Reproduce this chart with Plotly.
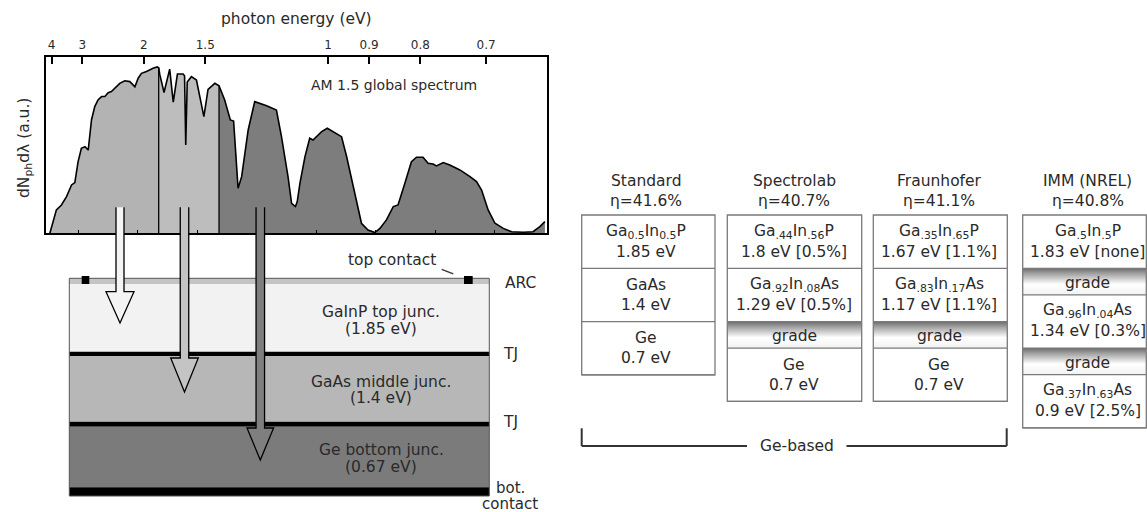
import plotly.graph_objects as go

# ---------------- data ----------------
wavelength_nm = [304, 326, 343, 360, 377, 388, 399, 410, 422, 433, 444, 455, 466, 478, 489,
                 500, 511, 522, 539, 556, 573, 590, 601, 612, 629, 651, 665, 670, 674, 688,
                 707, 719, 733, 752, 757, 761, 766, 780, 797, 822, 836, 859, 873, 892, 911,
                 922, 932, 937, 949, 971, 993, 1033, 1066, 1083, 1105, 1117, 1124, 1130, 1136,
                 1145, 1162, 1178, 1189, 1201, 1218, 1237, 1257, 1285, 1302, 1319, 1335, 1352,
                 1374, 1397, 1414, 1436, 1459, 1475, 1498, 1520, 1537, 1559, 1576, 1593, 1604,
                 1627, 1649, 1683, 1717, 1739, 1756, 1778, 1801, 1829, 1857, 1896, 1929, 1952, 1969]
photon_flux_au = [0.0, 0.133, 0.161, 0.208, 0.275, 0.288, 0.407, 0.483, 0.492, 0.473, 0.644, 0.720,
                  0.758, 0.777, 0.777, 0.799, 0.805, 0.824, 0.852, 0.867, 0.862, 0.833, 0.881, 0.909,
                  0.919, 0.938, 0.945, 0.940, 0.900, 0.800, 0.933, 0.745, 0.905, 0.905, 0.895, 0.502,
                  0.860, 0.890, 0.871, 0.663, 0.818, 0.852, 0.838, 0.757, 0.644, 0.638, 0.417, 0.256,
                  0.322, 0.587, 0.748, 0.725, 0.700, 0.549, 0.322, 0.170, 0.160, 0.152, 0.180, 0.284,
                  0.436, 0.540, 0.530, 0.549, 0.578, 0.597, 0.578, 0.549, 0.436, 0.303, 0.170, 0.057,
                  0.019, 0.004, 0.028, 0.076, 0.152, 0.161, 0.284, 0.407, 0.432, 0.432, 0.398, 0.394,
                  0.383, 0.402, 0.388, 0.360, 0.322, 0.294, 0.246, 0.133, 0.057, 0.028, 0.009, 0.006,
                  0.009, 0.038, 0.066]
gainp_edge_nm = 670
gaas_edge_nm = 873

energy_ticks_ev = [4, 3, 2, 1.5, 1, 0.9, 0.8, 0.7]
energy_tick_labels = ["4", "3", "2", "1.5", "1", "0.9", "0.8", "0.7"]
wavelength_minor_ticks_nm = [400, 600, 800, 1000, 1200, 1400, 1600, 1800]

cell_junctions = ["GaInP top junc.", "GaAs middle junc.", "Ge bottom junc."]
cell_gaps = ["(1.85 eV)", "(1.4 eV)", "(0.67 eV)"]

designs = ["Standard", "Spectrolab", "Fraunhofer", "IMM (NREL)"]
efficiencies = ["η=41.6%", "η=40.7%", "η=41.1%", "η=40.8%"]
design_layers = [
    [("Ga<sub>0.5</sub>In<sub>0.5</sub>P", "1.85 eV"), ("GaAs", "1.4 eV"), ("Ge", "0.7 eV")],
    [("Ga<sub>.44</sub>In<sub>.56</sub>P", "1.8 eV [0.5%]"),
     ("Ga<sub>.92</sub>In<sub>.08</sub>As", "1.29 eV [0.5%]"), ("grade", None), ("Ge", "0.7 eV")],
    [("Ga<sub>.35</sub>In<sub>.65</sub>P", "1.67 eV [1.1%]"),
     ("Ga<sub>.83</sub>In<sub>.17</sub>As", "1.17 eV [1.1%]"), ("grade", None), ("Ge", "0.7 eV")],
    [("Ga<sub>.5</sub>In<sub>.5</sub>P", "1.83 eV [none]"), ("grade", None),
     ("Ga<sub>.96</sub>In<sub>.04</sub>As", "1.34 eV [0.3%]"), ("grade", None),
     ("Ga<sub>.37</sub>In<sub>.63</sub>As", "0.9 eV [2.5%]")],
]

# ---------------- layout constants (pixels) ----------------
W, H = 1147, 512
FONT = "DejaVu Sans"
TXT = "#2a2a2a"
BOX_L, BOX_R, BOX_T, BOX_B = 45.7, 546.7, 57.3, 233.3
LAM_RANGE = [290, 1975]

fig = go.Figure()

# ---------------- spectrum ----------------
i1 = wavelength_nm.index(gainp_edge_nm)
i2 = wavelength_nm.index(gaas_edge_nm)
segments = [(0, i1 + 1, "#b3b3b3"), (i1, i2 + 1, "#bdbdbd"), (i2, len(wavelength_nm), "#7d7d7d")]
for a, b, col in segments:
    fig.add_trace(go.Scatter(x=wavelength_nm[a:b], y=photon_flux_au[a:b], mode="lines",
                             line=dict(width=0), fill="tozeroy", fillcolor=col,
                             hoverinfo="skip", showlegend=False))
for idx in (i1, i2):
    fig.add_trace(go.Scatter(x=[wavelength_nm[idx]] * 2, y=[0, photon_flux_au[idx]], mode="lines",
                             line=dict(color="black", width=1.3), hoverinfo="skip", showlegend=False))
fig.add_trace(go.Scatter(x=wavelength_nm, y=photon_flux_au, mode="lines",
                         line=dict(color="black", width=1.6), hoverinfo="skip", showlegend=False))
# anchor for the bottom tick axis
fig.add_trace(go.Scatter(x=wavelength_nm[:1], y=[0], xaxis="x2", yaxis="y", mode="markers",
                         marker=dict(opacity=0), hoverinfo="skip", showlegend=False))

# ---------------- helpers for the diagram (pixel axis x3/y3) ----------------
shapes = []
annotations = []


def rect(x0, y0, x1, y1, fill, line=None, lw=0):
    shapes.append(dict(type="rect", xref="x3", yref="y3", x0=x0, y0=y0, x1=x1, y1=y1,
                       fillcolor=fill, line=dict(color=line or "rgba(0,0,0,0)", width=lw),
                       layer="above"))


def seg(x0, y0, x1, y1, color="black", lw=1.0):
    shapes.append(dict(type="line", xref="x3", yref="y3", x0=x0, y0=y0, x1=x1, y1=y1,
                       line=dict(color=color, width=lw), layer="above"))


def text(x, y, s, size=15.5, xanchor="center", angle=0):
    annotations.append(dict(xref="x3", yref="y3", x=x, y=y, text=s, showarrow=False,
                            xanchor=xanchor, yanchor="middle", textangle=angle,
                            font=dict(family=FONT, size=size, color=TXT)))


# axis texts for the spectrum
text((BOX_L + BOX_R) / 2, 18.5, "photon energy (eV)", size=15.5)
text(25, 148, "dN<sub>ph</sub>dλ (a.u.)", size=15.5, angle=-90)
text(394, 85, "AM 1.5 global spectrum", size=14)

# ---------------- cell stack ----------------
CL, CR = 69.3, 489.3
rect(CL, 278.3, CR, 284, "#c4c4c4")
rect(CL, 284, CR, 351.7, "#f2f2f2")
rect(CL, 351.7, CR, 356.3, "black")
rect(CL, 356.3, CR, 421.7, "#b7b7b7")
rect(CL, 421.7, CR, 426.7, "black")
rect(CL, 426.7, CR, 487.3, "#7b7b7b")
rect(CL, 487.3, CR, 496, "black")
rect(CL, 278.3, CR, 496, "rgba(0,0,0,0)", line="#555555", lw=1)
rect(81.7, 276, 89.3, 284, "black")
rect(464, 276, 472.7, 284, "black")
seg(441.7, 269.3, 453.3, 273.8, "#333333", 1.3)
text(392, 260, "top contact")
text(503, 283, "ARC", xanchor="left")
text(501, 353.5, "TJ", xanchor="left")
text(501, 421.7, "TJ", xanchor="left")
text(510, 488, "bot.", size=15)
text(510, 503.5, "contact", size=15)
for (ya, yb), name, gap in zip([(311.7, 329.3), (381.7, 398.3), (450, 467.3)], cell_junctions, cell_gaps):
    text(381, ya, name)
    text(381, yb, gap)

# arrows
arrows = [(120, 207.3, 291.7, 323, 8, 28, "#f4f4f4"),
          (184.5, 207.3, 358, 392, 8.5, 27.6, "#c4c4c4"),
          (260.3, 207.3, 428, 460, 8.5, 26.6, "#7f7f7f")]
for cx, y0, yh, yt, sw, hw, col in arrows:
    pts = [(cx - sw / 2, y0), (cx - sw / 2, yh), (cx - hw / 2, yh), (cx, yt),
           (cx + hw / 2, yh), (cx + sw / 2, yh), (cx + sw / 2, y0)]
    p = "M " + " L ".join(f"{x},{y}" for x, y in pts)
    shapes.append(dict(type="path", xref="x3", yref="y3", path=p + " Z", fillcolor=col,
                       line=dict(width=0), layer="above"))
    shapes.append(dict(type="path", xref="x3", yref="y3", path=p, fillcolor="rgba(0,0,0,0)",
                       line=dict(color="black", width=1.3), layer="above"))

# ---------------- design tables ----------------
col_x = [(581.7, 715.0), (727.3, 861.7), (873.3, 1007.3), (1022.7, 1146.3)]
head_x = [646, 794, 939, 1087.5]
ROW_H, GRADE_H, TOP = 53.3, 26.5, 215.0
BORDER = "#7a7a7a"
for (xl, xr), hx, name, eta, layers in zip(col_x, head_x, designs, efficiencies, design_layers):
    text(hx, 180.7, name)
    text(hx, 200.7, eta)
    y = TOP
    for top_line, bottom_line in layers:
        h = GRADE_H if bottom_line is None else ROW_H
        if bottom_line is None:
            fig.add_trace(go.Scatter(x=[xl, xr, xr, xl, xl], y=[y, y, y + h, y + h, y],
                                     xaxis="x3", yaxis="y3", mode="lines", line=dict(width=0),
                                     fill="toself",
                                     fillgradient=dict(type="vertical", start=y, stop=y + h,
                                                       colorscale=[[0, "#6c6c6c"], [0.18, "#9c9c9c"],
                                                                   [0.6, "#ffffff"], [1, "#f2f2f2"]]),
                                     hoverinfo="skip", showlegend=False))
            text(hx, y + h / 2 + 1.5, top_line)
        else:
            text(hx, y + h / 2 - 10, top_line)
            text(hx, y + h / 2 + 10, bottom_line)
        y += h
        seg(xl, y, xr, y, BORDER, 1.3)
    rect(xl, TOP, xr, y, "rgba(0,0,0,0)", line=BORDER, lw=1.3)

# Ge-based bracket
seg(581.7, 428.3, 581.7, 446, "#333333", 2)
seg(581.7, 446, 747, 446, "#333333", 2)
seg(846.5, 446, 1006.7, 446, "#333333", 2)
seg(1006.7, 428.3, 1006.7, 446, "#333333", 2)
text(796.5, 446, "Ge-based")

# ---------------- layout ----------------
fig.update_layout(
    width=W, height=H, margin=dict(l=0, r=0, t=0, b=0),
    paper_bgcolor="white", plot_bgcolor="rgba(0,0,0,0)", template="none",
    showlegend=False, shapes=shapes, annotations=annotations,
    font=dict(family=FONT, color=TXT),
    xaxis=dict(domain=[BOX_L / W, BOX_R / W], range=LAM_RANGE, side="top",
               tickmode="array", tickvals=[1240 / e for e in energy_ticks_ev],
               ticktext=energy_tick_labels, ticks="inside", ticklen=7, tickwidth=1.5,
               tickcolor="black", tickfont=dict(family=FONT, size=12, color=TXT),
               ticklabelstandoff=2,
               showline=True, linecolor="black", linewidth=1.5, mirror=True,
               showgrid=False, zeroline=False, fixedrange=True),
    xaxis2=dict(overlaying="x", side="bottom", anchor="y", range=LAM_RANGE,
                tickmode="array", tickvals=wavelength_minor_ticks_nm, ticks="inside",
                ticklen=3, tickwidth=1, tickcolor="black", showticklabels=False,
                showline=False, showgrid=False, zeroline=False),
    yaxis=dict(domain=[1 - BOX_B / H, 1 - BOX_T / H], range=[0, 1], showticklabels=False,
               ticks="", showline=True, linecolor="black", linewidth=1.5, mirror=True,
               showgrid=False, zeroline=False),
    xaxis3=dict(domain=[0, 1], range=[0, W], visible=False, anchor="y3"),
    yaxis3=dict(domain=[0, 1], range=[H, 0], visible=False, anchor="x3"),
)

fig.write_html("out.html", config={"displayModeBar": False},
               post_script="document.body.style.margin='0px';")
